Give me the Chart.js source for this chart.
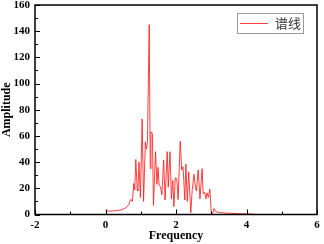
<!DOCTYPE html>
<html><head><meta charset="utf-8">
<script src="https://cdn.jsdelivr.net/npm/chart.js@4.4.1/dist/chart.umd.min.js"></script>
<style>html,body{margin:0;padding:0;background:#fff}#wrap{width:324px;height:244px}</style>
</head><body><div id="wrap"><canvas id="c" width="324" height="244"></canvas></div>
<script>
const seriesLabel = '谱线';
const freq = [0,0.2,0.4,0.5,0.6,0.66,0.7,0.72,0.764,0.80,0.83,0.86,0.90,0.92,0.95,0.99,1.04,1.08,1.13,1.16,1.19,1.24,1.27,1.29,1.33,1.36,1.42,1.46,1.49,1.52,1.56,1.60,1.65,1.69,1.75,1.78,1.83,1.87,1.91,1.94,1.98,2.02,2.06,2.12,2.16,2.20,2.25,2.28,2.32,2.36,2.42,2.46,2.51,2.55,2.58,2.63,2.68,2.74,2.77,2.81,2.85,2.88,2.92,2.96,3.00,3.04,3.08,3.14,3.19,3.25,3.32,3.5,3.8,4.0,4.2];
const amp = [2.5,2.7,3.2,4,5.5,7.5,11,11.5,10,23.7,18.6,42,19,18,40,13,73,10,55.5,50,55,145,35,63,62,7,48,23,36,22.4,21,15,41.5,11,48,21,48,12,26,6,28,27.5,11.5,56,34,36.4,11,38.5,10,32.6,1.3,18.6,30.6,21,18,34,12,35,16,17,12,16.5,13,19.4,1.3,0.8,4.6,2,1.8,1.5,1.3,1.0,0.6,0.5,0.3];
const xTicks = [-2,0,2,4,6];
const yTicks = [0,20,40,60,80,100,120,140,160];

const points = freq.map((f,i)=>({x:f,y:amp[i]}));
const tickFont = {family:'"Liberation Serif"', size:11, weight:'bold', lineHeight:1};
const titleFont = {family:'"Liberation Serif"', size:12, weight:'bold'};

const framePlugin = {
  id:'frame',
  afterDraw(chart){
    const ctx = chart.ctx, a = chart.chartArea;
    const xs = chart.scales.x, ys = chart.scales.y;
    ctx.save();
    ctx.strokeStyle = '#000';
    ctx.lineWidth = 1;
    ctx.beginPath();
    for(let v=-2; v<=6; v+=1){
      const px = Math.round(xs.getPixelForValue(v))+0.5;
      const len = (v%2===0)?5:3;
      ctx.moveTo(px,a.bottom); ctx.lineTo(px,a.bottom-len);
    }
    for(let v=0; v<=160; v+=10){
      const py = Math.round(ys.getPixelForValue(v))+0.5;
      const len = (v%20===0)?5:3;
      ctx.moveTo(a.left,py); ctx.lineTo(a.left+len,py);
    }
    ctx.stroke();
    ctx.lineWidth = 1.5;
    ctx.strokeRect(a.left, a.top, a.right-a.left, a.bottom-a.top);
    const bx=237, by=13, bw=66, bh=20;
    ctx.fillStyle='#fff';
    ctx.fillRect(bx,by,bw,bh);
    ctx.lineWidth=1;
    ctx.strokeStyle='#9a9a9a';
    ctx.strokeRect(bx+0.5,by+0.5,bw,bh);
    ctx.strokeStyle='rgba(255,40,40,0.9)';
    ctx.beginPath(); ctx.moveTo(240,23.5); ctx.lineTo(268,23.5); ctx.stroke();
    ctx.fillStyle='#333';
    ctx.font='13px "Noto Sans CJK SC"';
    ctx.textBaseline='middle';
    ctx.textAlign='left';
    ctx.fillText(chart.data.datasets[0].label, 275, 23.5);
    ctx.restore();
  }
};

new Chart(document.getElementById('c'), {
  type:'scatter',
  data:{datasets:[{label:seriesLabel, data:points, showLine:true, pointRadius:0,
    borderColor:'rgba(255,30,30,0.85)', borderWidth:1, tension:0}]},
  options:{
    responsive:false, animation:false, devicePixelRatio:1,
    layout:{padding:{top:5,right:7,left:0,bottom:0}},
    plugins:{legend:{display:false}, tooltip:{enabled:false}},
    scales:{
      x:{type:'linear', min:-2, max:6,
        afterBuildTicks(s){ s.ticks = xTicks.map(v=>({value:v})); },
        afterFit(s){ s.height = 29.5; s.paddingLeft = 0; s.paddingRight = 0; },
        ticks:{font:tickFont, color:'#000', padding:5, maxRotation:0},
        grid:{display:false, drawTicks:false}, border:{display:false},
        title:{display:true, text:'Frequency', font:titleFont, color:'#000', padding:{top:0,bottom:1}}
      },
      y:{type:'linear', min:0, max:160,
        afterBuildTicks(s){ s.ticks = yTicks.map(v=>({value:v})); },
        afterFit(s){ s.width = 35; s.paddingTop = 0; s.paddingBottom = 0; },
        ticks:{font:tickFont, color:'#000', padding:5},
        grid:{display:false, drawTicks:false}, border:{display:false},
        title:{display:true, text:'Amplitude', font:titleFont, color:'#000', padding:{top:0,bottom:0}}
      }
    }
  },
  plugins:[framePlugin]
});
</script></body></html>
